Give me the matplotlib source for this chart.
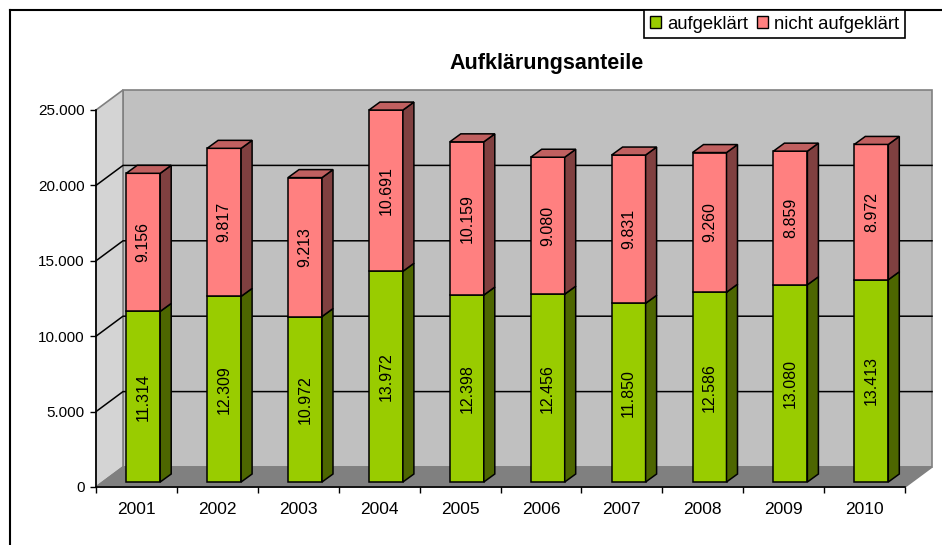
import matplotlib.pyplot as plt
from matplotlib.patches import Polygon, Patch

plt.rcParams['font.family'] = ['Liberation Sans', 'DejaVu Sans']

years = ['2001', '2002', '2003', '2004', '2005', '2006', '2007', '2008', '2009', '2010']
aufgeklaert = [11314, 12309, 10972, 13972, 12398, 12456, 11850, 12586, 13080, 13413]
nicht_aufgeklaert = [9156, 9817, 9213, 10691, 10159, 9080, 9831, 9260, 8859, 8972]
yticks = [0, 5000, 10000, 15000, 20000, 25000]


def de(v):
    return f"{v:,}".replace(",", ".")


W, H = 942, 545
fig = plt.figure(figsize=(W / 100, H / 100), dpi=100)
# front plane of the 3d chart, in pixels: x 96..905, y 110..487
ax = fig.add_axes([96 / W, (H - 487) / H, 809 / W, 377 / H])
n = len(years)
ymax = 25000
ax.set_xlim(0, n)
ax.set_ylim(0, ymax)

sx = n / 809.0      # data per pixel, x
sy = ymax / 377.0   # data per pixel, y
DX, DY = 27 * sx, 20 * sy   # wall depth

# walls and floor
wall_kw = dict(closed=True, clip_on=False, lw=1.2, edgecolor='#808080', zorder=1)
ax.add_patch(Polygon([(DX, DY), (n + DX, DY), (n + DX, ymax + DY), (DX, ymax + DY)],
                     facecolor='#c0c0c0', **wall_kw))
ax.add_patch(Polygon([(0, 0), (DX, DY), (DX, ymax + DY), (0, ymax)],
                     facecolor='#d4d4d4', **wall_kw))
ax.add_patch(Polygon([(0, 0), (n, 0), (n + DX, DY), (DX, DY)],
                     facecolor='#808080', **wall_kw))

# gridlines on back and side wall
for t in yticks[1:-1]:
    ax.plot([0, DX, n + DX], [t, t + DY, t + DY], color='black', lw=1.1,
            clip_on=False, zorder=2)

# bars
fx, fy = 0.25 * DX, 0.25 * DY          # bar front offset into the floor
bx, by = 11 * sx, 8 * sy               # bar depth
bw = 34 * sx

def box(x0, y0, y1, face, side, top=None):
    kw = dict(closed=True, clip_on=False, edgecolor='black', lw=1.1, zorder=3)
    ax.add_patch(Polygon([(x0, y0), (x0 + bw, y0), (x0 + bw, y1), (x0, y1)],
                         facecolor=face, **kw))
    ax.add_patch(Polygon([(x0 + bw, y0), (x0 + bw + bx, y0 + by),
                          (x0 + bw + bx, y1 + by), (x0 + bw, y1)],
                         facecolor=side, **kw))
    if top:
        ax.add_patch(Polygon([(x0, y1), (x0 + bw, y1), (x0 + bw + bx, y1 + by),
                              (x0 + bx, y1 + by)], facecolor=top, **kw))

for i in range(n):
    x0 = i + 0.5 - bw / 2 + fx
    a, b = aufgeklaert[i], nicht_aufgeklaert[i]
    box(x0, fy, fy + a, '#99cc00', '#4d6600')
    box(x0, fy + a, fy + a + b, '#ff8080', '#804040', '#c06060')
    ax.text(x0 + bw / 2, fy + a / 2, de(a), rotation=90, ha='center', va='center',
            fontsize=11.5, zorder=4)
    ax.text(x0 + bw / 2, fy + a + b / 2, de(b), rotation=90, ha='center', va='center',
            fontsize=11.5, zorder=4)

# axes
for s in ['top', 'right']:
    ax.spines[s].set_visible(False)
for s in ['left', 'bottom']:
    ax.spines[s].set_color('black')
    ax.spines[s].set_linewidth(1.2)
    ax.spines[s].set_zorder(5)
ax.set_facecolor('none')
ax.set_yticks(yticks)
ax.set_yticklabels([de(t) for t in yticks])
ax.set_xticks(range(n + 1))
ax.set_xticklabels([])
ax.set_xticks([i + 0.5 for i in range(n)], minor=True)
ax.set_xticklabels(years, minor=True)
ax.tick_params(axis='y', length=4.5, width=1, pad=3.5, labelsize=11)
ax.tick_params(axis='x', which='major', length=4, width=1)
ax.tick_params(axis='x', which='minor', length=0, pad=10.5, labelsize=12.5)

fig.text(547 / W, 1 - 64 / H, 'Aufklärungsanteile', ha='center', va='center',
         fontsize=15.5, fontweight='bold')

handles = [Patch(facecolor='#99cc00', edgecolor='black', label='aufgeklärt'),
           Patch(facecolor='#ff8080', edgecolor='black', label='nicht aufgeklärt')]
leg = fig.legend(handles=handles, loc='upper right', bbox_to_anchor=(905 / W, 1 - 10 / H),
                 ncol=2, fancybox=False, edgecolor='black', framealpha=1,
                 borderaxespad=0, fontsize=13.3, handlelength=0.6, handleheight=0.6,
                 handletextpad=0.33, columnspacing=0.5, borderpad=0.3)
leg.get_frame().set_linewidth(1.2)

# outer chart border (left and top visible)
fig.add_artist(plt.Line2D([10 / W, 10 / W], [0, 1 - 10 / H], color='black', lw=1.5))
fig.add_artist(plt.Line2D([10 / W, 1], [1 - 10 / H, 1 - 10 / H], color='black', lw=1.5))

fig.savefig('out.png', dpi=100)
